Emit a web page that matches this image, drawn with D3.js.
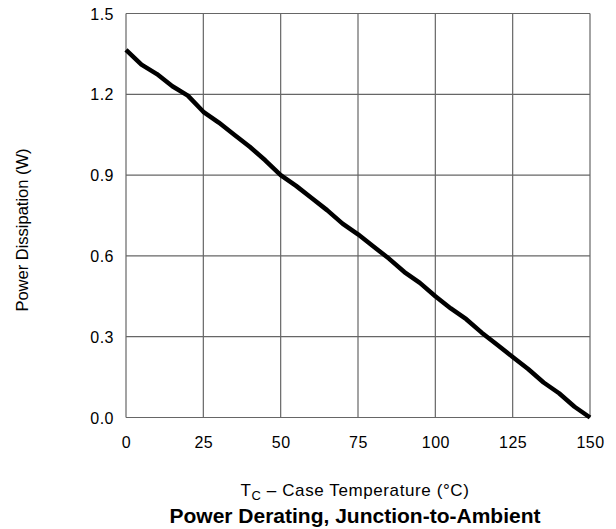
<!DOCTYPE html>
<html><head><meta charset="utf-8">
<script src="https://cdn.jsdelivr.net/npm/d3@7"></script>
<style>body{margin:0;background:#fff}svg text{font-family:"Liberation Sans",Arial,sans-serif;fill:#000}</style>
</head><body>
<svg id="c" width="616" height="529"></svg>
<script>
const temps = [0,5,10,15,20,25,30,35,40,45,50,55,60,65,70,75,80,85,90,95,100,105,110,115,120,125,130,135,140,145,150];
const power = [1.365,1.31,1.275,1.23,1.195,1.135,1.095,1.05,1.005,0.955,0.9,0.86,0.815,0.77,0.72,0.68,0.635,0.59,0.54,0.5,0.45,0.405,0.365,0.315,0.27,0.225,0.18,0.13,0.09,0.04,0.0];
const xTicks = [0,25,50,75,100,125,150];
const yTicks = [0,0.3,0.6,0.9,1.2,1.5];

const svg = d3.select("#c");
const L=126,R=590,T=13.5,B=417.5;
const x = d3.scaleLinear().domain([0,150]).range([L,R]);
const y = d3.scaleLinear().domain([0,1.5]).range([B,T]);

const g = svg.append("g");
g.selectAll(".vx").data(xTicks).join("line")
 .attr("x1",d=>x(d)).attr("x2",d=>x(d)).attr("y1",T).attr("y2",B)
 .attr("stroke","#666").attr("stroke-width",1.2);
g.selectAll(".hy").data(yTicks).join("line")
 .attr("y1",d=>y(d)).attr("y2",d=>y(d)).attr("x1",L).attr("x2",R)
 .attr("stroke","#666").attr("stroke-width",1.2);

svg.append("g").attr("transform",`translate(0,${B})`)
 .call(d3.axisBottom(x).tickValues(xTicks).tickSize(0).tickPadding(19).tickFormat(d3.format("d")))
 .call(a=>a.select(".domain").remove())
 .call(a=>a.selectAll("text").attr("font-size",16).attr("letter-spacing","0.5px").style("font-family","Liberation Sans, Arial, sans-serif"));
svg.append("g").attr("transform",`translate(${L},0)`)
 .call(d3.axisLeft(y).tickValues(yTicks).tickSize(0).tickPadding(12).tickFormat(d3.format(".1f")))
 .call(a=>a.select(".domain").remove())
 .call(a=>a.selectAll("text").attr("font-size",16).attr("letter-spacing","0.5px").attr("dy","0.35em").style("font-family","Liberation Sans, Arial, sans-serif"));

const line = d3.line().x((d,i)=>x(temps[i])).y(d=>y(d)).curve(d3.curveLinear);
svg.append("path").datum(power).attr("d",line)
 .attr("fill","none").attr("stroke","#000").attr("stroke-width",4.5).attr("stroke-linejoin","round");

const xl = svg.append("text").attr("x",355).attr("y",496).attr("text-anchor","middle").attr("font-size",17).attr("letter-spacing","0.6px");
xl.append("tspan").text("T");
xl.append("tspan").attr("font-size",13).attr("dy",4).text("C");
xl.append("tspan").attr("dy",-4).text(" – Case Temperature (°C)");

svg.append("text").attr("x",355).attr("y",523).attr("text-anchor","middle").attr("font-size",21).attr("font-weight","bold")
 .text("Power Derating, Junction-to-Ambient");

svg.append("text").attr("transform","translate(28,230) rotate(-90)").attr("text-anchor","middle").attr("font-size",16.5)
 .text("Power Dissipation (W)");
</script>
</body></html>
